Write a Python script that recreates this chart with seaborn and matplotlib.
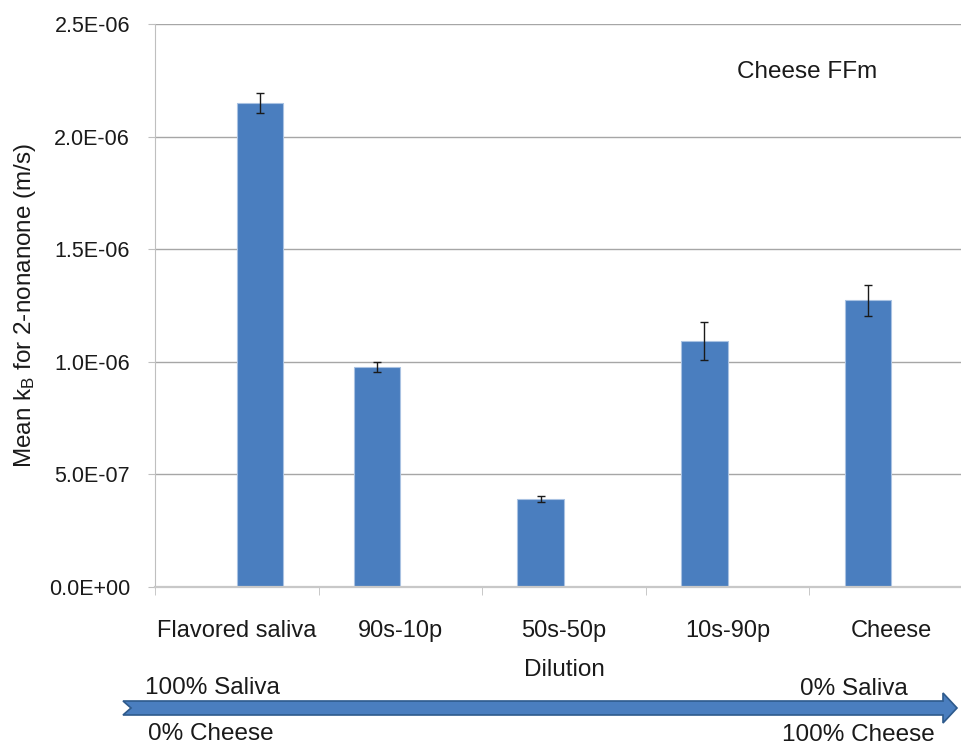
import numpy as np
import pandas as pd
import matplotlib
matplotlib.use("Agg")
import matplotlib.pyplot as plt
from matplotlib.patches import Polygon
from matplotlib.ticker import FuncFormatter, FixedLocator
import seaborn as sns

# data
dilution = ["Flavored saliva", "90s-10p", "50s-50p", "10s-90p", "Cheese"]
series = ["Control", "Mix", "Mix", "Mix", "Mix"]   # first bar sits in the right slot
kb_mean = [2.149e-06, 0.975e-06, 0.390e-06, 1.093e-06, 1.273e-06]
kb_err = [0.045e-06, 0.022e-06, 0.012e-06, 0.085e-06, 0.068e-06]
yticks = [0.0, 5.0e-07, 1.0e-06, 1.5e-06, 2.0e-06, 2.5e-06]

df = pd.DataFrame({"dilution": dilution, "series": series, "kb": kb_mean})

sns.set_style("white")
plt.rcParams["font.family"] = ["Liberation Sans", "DejaVu Sans"]
plt.rcParams["mathtext.default"] = "regular"

blue = "#4a7ebf"
txt = "#1a1a1a"
fig = plt.figure(figsize=(9.62, 7.46), dpi=100)
ax = fig.add_axes([155 / 962, 159 / 746, 818 / 962, 563 / 746])

sns.barplot(data=df, x="dilution", y="kb", hue="series", order=dilution,
            hue_order=["Mix", "Control"], palette=[blue, blue], width=0.57,
            gap=0, dodge=True, saturation=1, errorbar=None, legend=False,
            edgecolor="#a9c2e2", linewidth=0.8, ax=ax)

# error bars on each drawn bar
for p in ax.patches:
    h = p.get_height()
    if np.isnan(h) or h <= 0:
        continue
    i = int(np.argmin([abs(h - m) for m in kb_mean]))
    ax.errorbar(p.get_x() + p.get_width() / 2, h, yerr=kb_err[i], color=txt,
                elinewidth=1, capsize=3, capthick=1, zorder=5)

ax.set_xlim(-0.5, len(dilution) - 0.5)
ax.set_ylim(0, 2.5e-06)
ax.set_yticks(yticks)
ax.yaxis.set_major_formatter(FuncFormatter(lambda v, pos: f"{v:.1E}"))
ax.grid(axis="y", color="#a6a6a6", linewidth=1)
ax.set_axisbelow(True)
for s in ["top", "right"]:
    ax.spines[s].set_visible(False)
ax.spines["left"].set_color("#bfbfbf")
ax.spines["bottom"].set_color("#c8c8c8")
ax.spines["bottom"].set_linewidth(1.6)

ax.tick_params(axis="y", which="major", length=5, color="#bfbfbf", pad=13,
               labelsize=15.5, labelcolor=txt, left=True)
ax.xaxis.set_minor_locator(FixedLocator(np.arange(-0.5, len(dilution), 1.0)))
ax.tick_params(axis="x", which="major", length=0, pad=24, labelsize=17,
               labelcolor=txt)
ax.tick_params(axis="x", which="minor", length=6, color="#bfbfbf", bottom=True)

ax.set_xlabel("Dilution", fontsize=17.5, color=txt, labelpad=12)
ax.set_ylabel("Mean k$_B$ for 2-nonanone (m/s)", fontsize=17.5, color=txt,
              labelpad=8)
ax.text(0.711, 0.915, "Cheese FFm", transform=ax.transAxes, fontsize=17.5,
        color=txt, ha="left", va="center")

# dilution direction arrow below the axis (notched tail, pixel outline)
px = [123, 943, 943, 957, 943, 943, 123, 131]
py = [701, 701, 693, 708, 723, 715, 715, 708]
arrow = Polygon(np.column_stack([np.array(px) / 962, 1 - np.array(py) / 746]),
                closed=True, transform=fig.transFigure, facecolor=blue,
                edgecolor="#2e5a8c", linewidth=1.2)
fig.patches.append(arrow)
for x, y, s, ha in [(145, 688, "100% Saliva", "left"), (148, 734, "0% Cheese", "left"),
                    (908, 689, "0% Saliva", "right"), (935, 735, "100% Cheese", "right")]:
    fig.text(x / 962, 1 - y / 746, s, fontsize=17.5, color=txt, ha=ha, va="center")

fig.savefig("out.png", dpi=100)
